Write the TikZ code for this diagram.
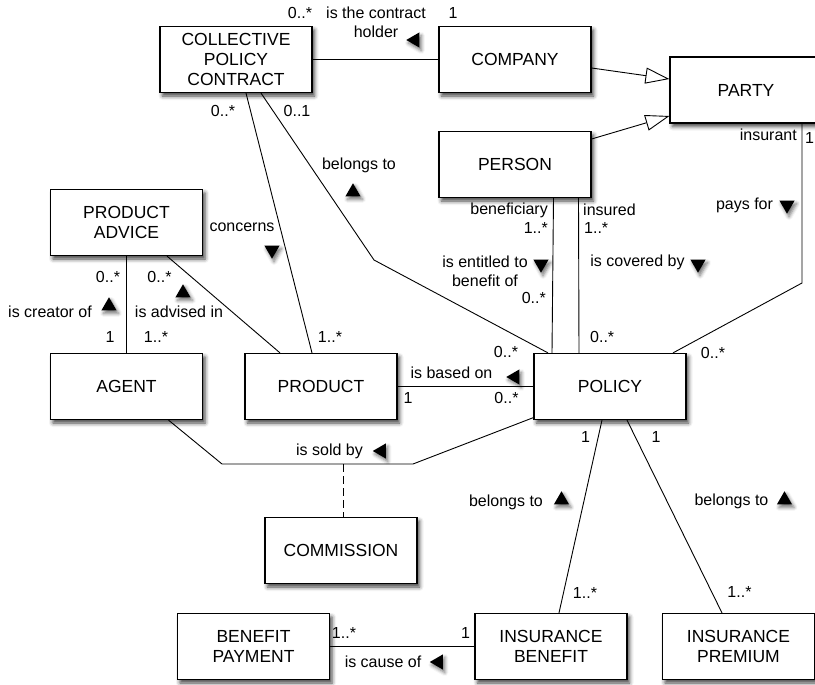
\documentclass[tikz,border=0pt]{standalone}
\usepackage{fontspec}
\setmainfont{Liberation Sans}
\usetikzlibrary{calc,shapes.geometric,arrows.meta,shadows.blur}

\tikzset{
  entity/.style={draw, line width=1.2pt, fill=white, align=center,
    minimum width=152pt, minimum height=66pt,
    font=\fontsize{17.5}{20}\selectfont,
    blur shadow={shadow xshift=2.5pt, shadow yshift=-3.5pt, shadow blur radius=4pt, shadow opacity=75}},
  rel/.style={line width=0.9pt},
  gen/.style={rel, -{Triangle[open, length=24pt, width=16pt, line width=0.9pt]}},
  lbl/.style={font=\fontsize{16}{19}\selectfont, inner sep=0pt, align=center},
  dirup/.style={regular polygon, regular polygon sides=3, fill=black, inner sep=0pt,
    minimum size=17.5pt,
    blur shadow={shadow xshift=2pt, shadow yshift=-3pt, shadow blur radius=3.5pt, shadow opacity=55}},
  dirdown/.style={dirup, shape border rotate=180},
  dirleft/.style={dirup, shape border rotate=90}
}

\begin{document}
\begin{tikzpicture}[x=1pt, y=-1pt]
        \useasboundingbox (0,0) rectangle (815,685);
        \clip (0,0) rectangle (815,685);

        % Classes
        \node[entity] (cpc) at (236,59.5) {COLLECTIVE\\POLICY\\CONTRACT};
        \node[entity] (company) at (515,59.5) {COMPANY};
        \node[entity] (party) at (746,90) {PARTY};
        \node[entity] (person) at (515,164.5) {PERSON};
        \node[entity] (advice) at (126.5,222.5) {PRODUCT\\ADVICE};
        \node[entity] (agent) at (126.5,386.5) {AGENT};
        \node[entity] (product) at (321,386.5) {PRODUCT};
        \node[entity] (policy) at (610,386.5) {POLICY};
        \node[entity] (commission) at (341,550.5) {COMMISSION};
        \node[entity] (payment) at (253.5,646.5) {BENEFIT\\PAYMENT};
        \node[entity] (benefit) at (551,646.5) {INSURANCE\\BENEFIT};
        \node[entity] (premium) at (738.5,646.5) {INSURANCE\\PREMIUM};

        % Bend points
        \coordinate (bendA) at (374,260);
        \coordinate (bendB) at (802,283);
        \coordinate (sold1) at (222,464);
        \coordinate (sold2) at (413,464);
        \coordinate (assoc) at (343,464);

        % Associations
        \draw[rel] (cpc) -- (company);
        \draw[rel] ($(cpc.south)+(10,0)$) -- ($(product.north)+(-9,0)$);
        \draw[rel] ($(cpc.south)+(25,0)$) -- (bendA) -- ($(policy.north)+(-62,0)$);
        \draw[rel] (advice) -- (agent);
        \draw[rel] ($(advice.south)+(40.5,0)$) -- ($(product.north)+(-41,0)$);
        \draw[rel] (product) -- (policy);
        \draw[rel] ($(person.south)+(38.5,0)$) -- ($(policy.north)+(-58,0)$);
        \draw[rel] ($(person.south)+(63.5,0)$) -- ($(policy.north)+(-31,0)$);
        \draw[rel] ($(party.south)+(56,0)$) -- (bendB) -- ($(policy.north)+(63,0)$);
        \draw[rel] ($(agent.south)+(42,0)$) -- (sold1) -- (sold2) -- ($(policy.south west)+(0,-2.5)$);
        \draw[rel, dash pattern=on 8pt off 4pt] (assoc) -- (assoc |- commission.north);
        \draw[rel] ($(policy.south)+(-8,0)$) -- ($(benefit.north)+(8,0)$);
        \draw[rel] ($(policy.south)+(17,0)$) -- ($(premium.north)+(-16.5,0)$);
        \draw[rel] (payment) -- (benefit);

        % Generalisations
        \draw[gen] ($(company.east)+(0,8.5)$) -- ($(party.west)+(0,-11)$);
        \draw[gen] ($(person.east)+(0,-25.5)$) -- ($(party.west)+(0,26)$);

        % Role names and multiplicities
        \node[lbl] (m1) at (300,13) {0..*};
        \node[lbl] (m2) at (453,13) {1};
        \node[lbl] (m3) at (223,111) {0..*};
        \node[lbl] (m4) at (297,111) {0..1};
        \node[lbl] (m5) at (330,337) {1..*};
        \node[lbl] (m6) at (108,277) {0..*};
        \node[lbl] (m7) at (110,337) {1};
        \node[lbl] (m8) at (159.5,277) {0..*};
        \node[lbl] (m9) at (156,337) {1..*};
        \node[lbl, anchor=east] (r1) at (548,210) {beneficiary};
        \node[lbl, anchor=east] (m10) at (548,228) {1..*};
        \node[lbl, anchor=east] (m11) at (546,298) {0..*};
        \node[lbl, anchor=west] (r2) at (583,210) {insured};
        \node[lbl, anchor=west] (m12) at (584,228) {1..*};
        \node[lbl, anchor=west] (m13) at (590,337) {0..*};
        \node[lbl] (m14) at (506,352) {0..*};
        \node[lbl] (m15) at (408,398) {1};
        \node[lbl] (m16) at (506.5,398) {0..*};
        \node[lbl, anchor=east] (r3) at (797,135) {insurant};
        \node[lbl, anchor=west] (m17) at (805,138) {1};
        \node[lbl] (m18) at (713,353) {0..*};
        \node[lbl] (m19) at (585.5,437) {1};
        \node[lbl] (m20) at (656,437) {1};
        \node[lbl] (m21) at (585,593) {1..*};
        \node[lbl] (m22) at (739.5,592) {1..*};
        \node[lbl] (m23) at (344,633) {1..*};
        \node[lbl] (m24) at (465.5,633) {1};

        % Association names with reading direction
        \node[lbl] (n1) at (376,22.5) {is the contract\\holder};
        \node[dirleft] (d1) at (415,40) {};
        \node[lbl] (n2) at (359,165) {belongs to};
        \node[dirup] (d2) at (353,192) {};
        \node[lbl] (n3) at (242,227) {concerns};
        \node[dirdown] (d3) at (272,250) {};
        \node[lbl] (n4) at (50,312) {is creator of};
        \node[dirup] (d4) at (109,306) {};
        \node[lbl] (n5) at (179,312) {is advised in};
        \node[dirup] (d5) at (183,293) {};
        \node[lbl] (n6) at (485,262) {is entitled to};
        \node[lbl] (n7) at (485,281) {benefit of};
        \node[dirdown] (d6) at (541,264) {};
        \node[lbl] (n8) at (637.5,262) {is covered by};
        \node[dirdown] (d7) at (698,264) {};
        \node[lbl] (n9) at (744.5,205) {pays for};
        \node[dirdown] (d8) at (787,205) {};
        \node[lbl] (n10) at (451.5,373) {is based on};
        \node[dirleft] (d9) at (515,377) {};
        \node[lbl] (n11) at (329.5,451) {is sold by};
        \node[dirleft] (d10) at (381.5,451) {};
        \node[lbl] (n12) at (506,502) {belongs to};
        \node[dirup] (d11) at (561.5,500) {};
        \node[lbl] (n13) at (731.5,501) {belongs to};
        \node[dirup] (d12) at (784.5,500) {};
        \node[lbl] (n14) at (383,662) {is cause of};
        \node[dirleft] (d13) at (438.5,662) {};
    \end{tikzpicture}
\end{document}
